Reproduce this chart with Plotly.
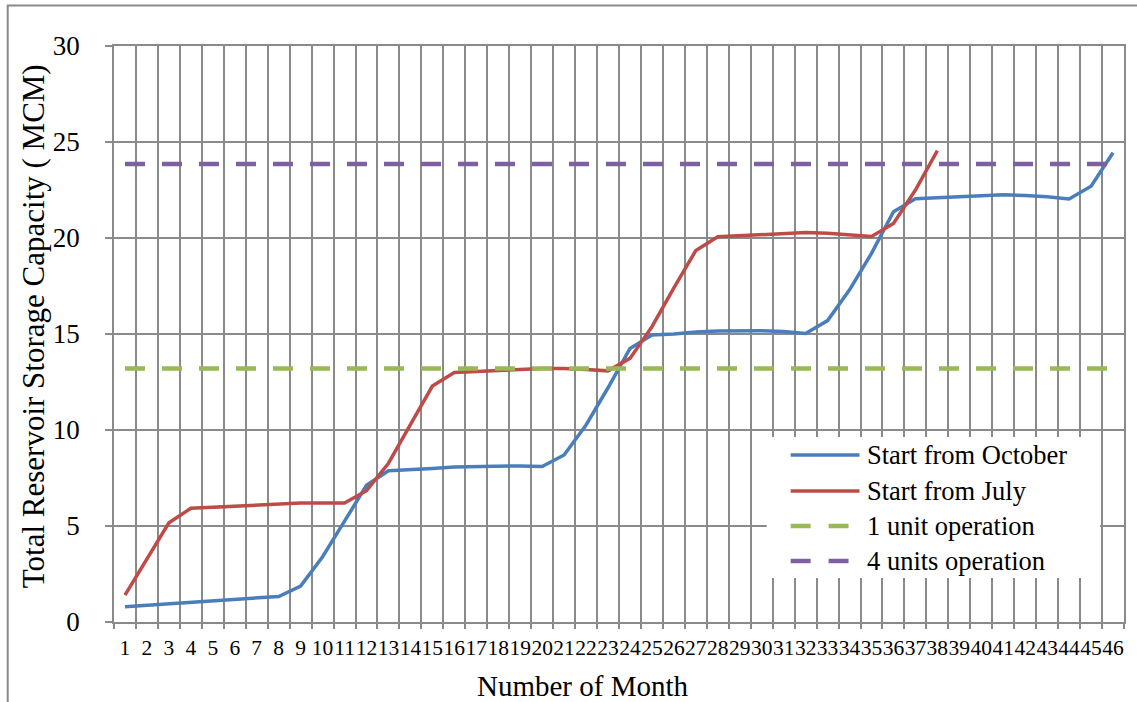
import plotly.graph_objects as go

# Month index on the category axis
months = [str(m) for m in range(1, 47)]

# Total storage (MCM) when filling starts in October
start_october = [
    0.80, 0.88, 0.96, 1.04, 1.11, 1.18, 1.25, 1.33, 1.87, 3.40,
    5.25, 7.12, 7.88, 7.92, 8.00, 8.07, 8.10, 8.13, 8.13, 8.10,
    8.70, 10.26, 12.20, 14.25, 14.95, 15.00, 15.10, 15.15, 15.17, 15.17,
    15.13, 15.03, 15.70, 17.30, 19.20, 21.37, 22.05, 22.10, 22.15, 22.20,
    22.25, 22.22, 22.15, 22.03, 22.70, 24.44,
]

# Total storage (MCM) when filling starts in July
start_july = [
    1.40, 3.30, 5.17, 5.92, 5.98, 6.05, 6.12, 6.18, 6.20, 6.20,
    6.20, 6.84, 8.27, 10.28, 12.29, 12.99, 13.03, 13.10, 13.15, 13.20,
    13.20, 13.15, 13.08, 13.73, 15.38, 17.40, 19.35, 20.07, 20.12, 20.18,
    20.22, 20.28, 20.25, 20.15, 20.08, 20.76, 22.50, 24.55,
]

# Storage thresholds for turbine operation
one_unit_level = 13.2
four_units_level = 23.85

series_names = ["Start from October", "Start from July", "1 unit operation", "4 units operation"]
series_colors = ["#4A7EBB", "#BE4B48", "#98B954", "#7D60A0"]

FONT = "Liberation Serif"
W, H = 1137, 702
ML, MR, MT, MB = 114, 11, 46, 80
PW, PH = W - ML - MR, H - MT - MB


def px_x(x):
    return (x - ML) / PW


def px_y(y):
    return (H - MB - y) / PH


fig = go.Figure()
fig.add_trace(go.Scatter(x=months, y=start_october, mode="lines", name=series_names[0],
                         line=dict(color=series_colors[0], width=3.5)))
fig.add_trace(go.Scatter(x=months[:len(start_july)], y=start_july, mode="lines", name=series_names[1],
                         line=dict(color=series_colors[1], width=3.5)))
fig.add_trace(go.Scatter(x=months, y=[one_unit_level] * len(months), mode="lines", name=series_names[2],
                         line=dict(color=series_colors[2], width=4.5, dash="20px,17px")))
fig.add_trace(go.Scatter(x=months, y=[four_units_level] * len(months), mode="lines", name=series_names[3],
                         line=dict(color=series_colors[3], width=4.5, dash="20px,17px")))

grid = "#8A8A8A"
fig.update_layout(
    width=W, height=H,
    margin=dict(l=ML, r=MR, t=MT, b=MB),
    paper_bgcolor="white", plot_bgcolor="white",
    showlegend=False,
    font=dict(family=FONT, color="black"),
    xaxis=dict(
        type="category", tickson="boundaries",
        categoryorder="array", categoryarray=months,
        tickmode="array", tickvals=months, ticktext=months,
        range=[-0.5, len(months) - 0.5], autorange=False,
        showgrid=True, gridcolor=grid, gridwidth=1.5,
        showline=True, linecolor=grid, linewidth=1.5, mirror=True,
        ticks="outside", ticklen=5, tickcolor=grid, tickwidth=1.5,
        tickfont=dict(family=FONT, size=21.5, color="black"),
        tickangle=0, ticklabelstandoff=5,
    ),
    yaxis=dict(
        range=[0, 30], dtick=5,
        showgrid=True, gridcolor=grid, gridwidth=1.5,
        showline=True, linecolor=grid, linewidth=1.5, mirror=True,
        ticks="outside", ticklen=7, tickcolor=grid, tickwidth=1.5,
        tickfont=dict(family=FONT, size=27, color="black"),
        ticklabelstandoff=20, zeroline=False,
    ),
)

shapes = []
annotations = []

# Chart-area border
shapes.append(dict(type="rect", xref="paper", yref="paper",
                   x0=px_x(7.5), x1=px_x(W + 40), y0=px_y(H + 40), y1=px_y(5.5),
                   line=dict(color=grid, width=2), fillcolor="rgba(0,0,0,0)", layer="above"))

# Legend box
shapes.append(dict(type="rect", xref="paper", yref="paper",
                   x0=px_x(768), x1=px_x(1102), y0=px_y(578), y1=px_y(437),
                   line=dict(width=0), fillcolor="white", layer="above"))

rows_y = [455, 491, 526, 561]
for i, (name, color) in enumerate(zip(series_names, series_colors)):
    yy = px_y(rows_y[i])
    if i < 2:
        shapes.append(dict(type="line", xref="paper", yref="paper",
                           x0=px_x(792), x1=px_x(861), y0=yy, y1=yy,
                           line=dict(color=color, width=3.5), layer="above"))
    else:
        for a, b in [(792, 812), (830, 850)]:
            shapes.append(dict(type="line", xref="paper", yref="paper",
                               x0=px_x(a), x1=px_x(b), y0=yy, y1=yy,
                               line=dict(color=color, width=4.5), layer="above"))
    annotations.append(dict(text=name, xref="paper", yref="paper",
                            x=px_x(866), y=yy, xanchor="left", yanchor="middle",
                            showarrow=False, font=dict(family=FONT, size=26.5, color="black")))

# Axis titles
annotations.append(dict(text="Number of Month", xref="paper", yref="paper",
                        x=px_x(584), y=px_y(686), xanchor="center", yanchor="middle",
                        showarrow=False, font=dict(family=FONT, size=29, color="black")))
annotations.append(dict(text="Total Reservoir Storage Capacity ( MCM)", xref="paper", yref="paper",
                        x=px_x(33), y=px_y(326), xanchor="center", yanchor="middle",
                        textangle=-90, showarrow=False, font=dict(family=FONT, size=31, color="black")))

fig.update_layout(shapes=shapes, annotations=annotations)
fig.write_html("out.html")
